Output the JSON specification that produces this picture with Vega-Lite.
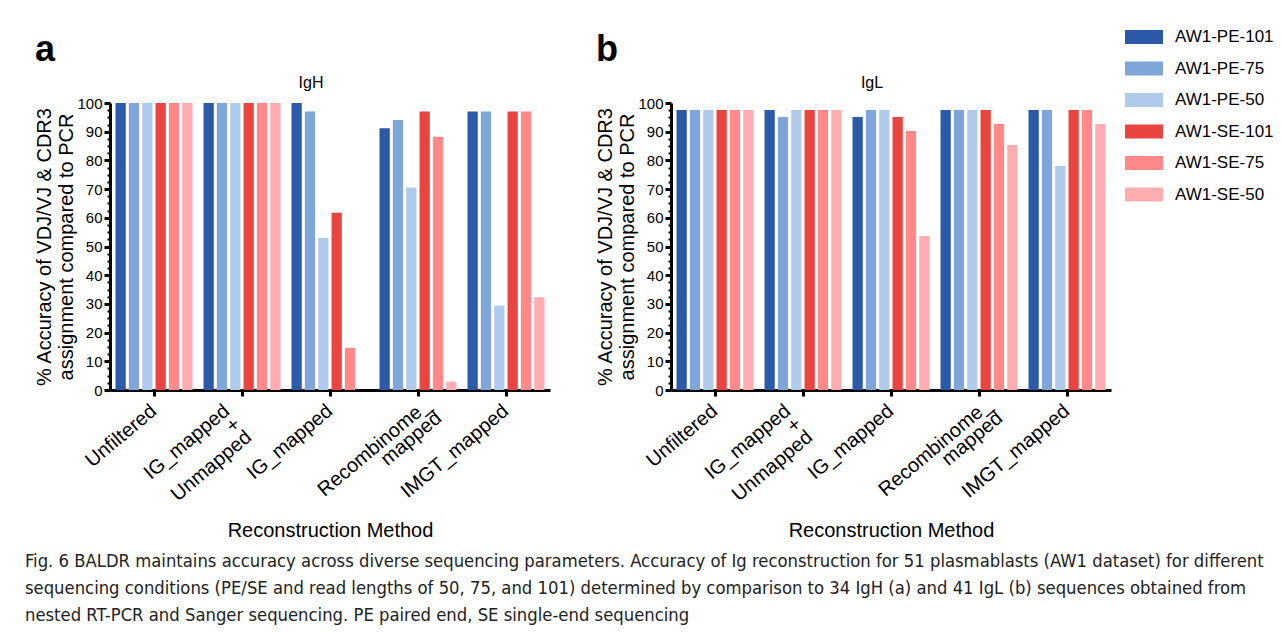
{
  "$schema": "https://vega.github.io/schema/vega-lite/v6.json",
  "background": "white",
  "padding": {"left": 24, "top": 18, "right": 0, "bottom": 0},
  "config": {
    "font": "Liberation Sans",
    "view": {"stroke": null},
    "axis": {"grid": false, "domainColor": "black", "tickColor": "black", "labelColor": "black", "titleColor": "black", "titleFontWeight": "normal"}
  },
  "title": {
    "text": [
      "Fig. 6 BALDR maintains accuracy across diverse sequencing parameters. Accuracy of Ig reconstruction for 51 plasmablasts (AW1 dataset) for different",
      "sequencing conditions (PE/SE and read lengths of 50, 75, and 101) determined by comparison to 34 IgH (a) and 41 IgL (b) sequences obtained from",
      "nested RT-PCR and Sanger sequencing. PE paired end, SE single-end sequencing"
    ],
    "orient": "bottom",
    "anchor": "start",
    "font": "DejaVu Sans Condensed, sans-serif",
    "fontSize": 18.3,
    "fontWeight": "normal",
    "color": "#222222",
    "lineHeight": 27,
    "offset": 12,
    "dx": -10
  },
  "datasets": {
    "igh": [
      {"method": "Unfiltered", "series": "AW1-PE-101", "value": 100},
      {"method": "Unfiltered", "series": "AW1-PE-75", "value": 100},
      {"method": "Unfiltered", "series": "AW1-PE-50", "value": 100},
      {"method": "Unfiltered", "series": "AW1-SE-101", "value": 100},
      {"method": "Unfiltered", "series": "AW1-SE-75", "value": 100},
      {"method": "Unfiltered", "series": "AW1-SE-50", "value": 100},
      {"method": "IG_mapped + Unmapped", "series": "AW1-PE-101", "value": 100},
      {"method": "IG_mapped + Unmapped", "series": "AW1-PE-75", "value": 100},
      {"method": "IG_mapped + Unmapped", "series": "AW1-PE-50", "value": 100},
      {"method": "IG_mapped + Unmapped", "series": "AW1-SE-101", "value": 100},
      {"method": "IG_mapped + Unmapped", "series": "AW1-SE-75", "value": 100},
      {"method": "IG_mapped + Unmapped", "series": "AW1-SE-50", "value": 100},
      {"method": "IG_mapped", "series": "AW1-PE-101", "value": 100},
      {"method": "IG_mapped", "series": "AW1-PE-75", "value": 97.06},
      {"method": "IG_mapped", "series": "AW1-PE-50", "value": 52.94},
      {"method": "IG_mapped", "series": "AW1-SE-101", "value": 61.76},
      {"method": "IG_mapped", "series": "AW1-SE-75", "value": 14.71},
      {"method": "IG_mapped", "series": "AW1-SE-50", "value": 0},
      {"method": "Recombinome_mapped", "series": "AW1-PE-101", "value": 91.18},
      {"method": "Recombinome_mapped", "series": "AW1-PE-75", "value": 94.12},
      {"method": "Recombinome_mapped", "series": "AW1-PE-50", "value": 70.59},
      {"method": "Recombinome_mapped", "series": "AW1-SE-101", "value": 97.06},
      {"method": "Recombinome_mapped", "series": "AW1-SE-75", "value": 88.24},
      {"method": "Recombinome_mapped", "series": "AW1-SE-50", "value": 2.94},
      {"method": "IMGT_mapped", "series": "AW1-PE-101", "value": 97.06},
      {"method": "IMGT_mapped", "series": "AW1-PE-75", "value": 97.06},
      {"method": "IMGT_mapped", "series": "AW1-PE-50", "value": 29.41},
      {"method": "IMGT_mapped", "series": "AW1-SE-101", "value": 97.06},
      {"method": "IMGT_mapped", "series": "AW1-SE-75", "value": 97.06},
      {"method": "IMGT_mapped", "series": "AW1-SE-50", "value": 32.35}
    ],
    "igl": [
      {"method": "Unfiltered", "series": "AW1-PE-101", "value": 97.56},
      {"method": "Unfiltered", "series": "AW1-PE-75", "value": 97.56},
      {"method": "Unfiltered", "series": "AW1-PE-50", "value": 97.56},
      {"method": "Unfiltered", "series": "AW1-SE-101", "value": 97.56},
      {"method": "Unfiltered", "series": "AW1-SE-75", "value": 97.56},
      {"method": "Unfiltered", "series": "AW1-SE-50", "value": 97.56},
      {"method": "IG_mapped + Unmapped", "series": "AW1-PE-101", "value": 97.56},
      {"method": "IG_mapped + Unmapped", "series": "AW1-PE-75", "value": 95.12},
      {"method": "IG_mapped + Unmapped", "series": "AW1-PE-50", "value": 97.56},
      {"method": "IG_mapped + Unmapped", "series": "AW1-SE-101", "value": 97.56},
      {"method": "IG_mapped + Unmapped", "series": "AW1-SE-75", "value": 97.56},
      {"method": "IG_mapped + Unmapped", "series": "AW1-SE-50", "value": 97.56},
      {"method": "IG_mapped", "series": "AW1-PE-101", "value": 95.12},
      {"method": "IG_mapped", "series": "AW1-PE-75", "value": 97.56},
      {"method": "IG_mapped", "series": "AW1-PE-50", "value": 97.56},
      {"method": "IG_mapped", "series": "AW1-SE-101", "value": 95.12},
      {"method": "IG_mapped", "series": "AW1-SE-75", "value": 90.24},
      {"method": "IG_mapped", "series": "AW1-SE-50", "value": 53.66},
      {"method": "Recombinome_mapped", "series": "AW1-PE-101", "value": 97.56},
      {"method": "Recombinome_mapped", "series": "AW1-PE-75", "value": 97.56},
      {"method": "Recombinome_mapped", "series": "AW1-PE-50", "value": 97.56},
      {"method": "Recombinome_mapped", "series": "AW1-SE-101", "value": 97.56},
      {"method": "Recombinome_mapped", "series": "AW1-SE-75", "value": 92.68},
      {"method": "Recombinome_mapped", "series": "AW1-SE-50", "value": 85.37},
      {"method": "IMGT_mapped", "series": "AW1-PE-101", "value": 97.56},
      {"method": "IMGT_mapped", "series": "AW1-PE-75", "value": 97.56},
      {"method": "IMGT_mapped", "series": "AW1-PE-50", "value": 78.05},
      {"method": "IMGT_mapped", "series": "AW1-SE-101", "value": 97.56},
      {"method": "IMGT_mapped", "series": "AW1-SE-75", "value": 97.56},
      {"method": "IMGT_mapped", "series": "AW1-SE-50", "value": 92.68}
    ]
  },
  "spacing": 45,
  "hconcat": [
    {
      "title": {"text": "a", "anchor": "start", "fontSize": 36, "fontWeight": "bold", "color": "black", "offset": 6},
      "vconcat": [
        {
          "width": 440,
          "height": 287,
          "title": {"text": "IgH", "fontSize": 16, "fontWeight": "normal", "color": "black", "offset": 5, "dx": -19},
          "data": {"name": "igh"},
          "resolve": {"axis": {"y": "independent"}},
          "layer": [
            {
              "mark": {"type": "bar"},
              "encoding": {
                "x": {
                  "field": "method", "type": "nominal",
                  "sort": ["Unfiltered", "IG_mapped + Unmapped", "IG_mapped", "Recombinome_mapped", "IMGT_mapped"],
                  "scale": {"paddingInner": 0.125, "paddingOuter": 0.0625},
                  "axis": {
                    "title": "Reconstruction Method", "titleFontSize": 20, "titlePadding": 8,
                    "labelExpr": "datum.label == 'IG_mapped + Unmapped' ? ['IG_mapped', '+\u00a0\u00a0\u00a0\u00a0\u00a0\u00a0\u00a0\u00a0\u00a0\u00a0', 'Unmapped\u00a0'] : datum.label == 'Recombinome_mapped' ? ['Recombinome_', 'mapped\u00a0\u00a0\u00a0\u00a0\u00a0\u00a0\u00a0\u00a0\u00a0\u00a0\u00a0\u00a0\u00a0'] : datum.label",
                    "labelAngle": -40, "labelAlign": "right", "labelBaseline": "middle",
                    "labelFontSize": 20, "labelLineHeight": 17,
                    "labelPadding": {"condition": {"test": "datum.value === 'Recombinome_mapped'", "value": 6}, "value": 12},
                    "labelOffset": {"condition": [{"test": "datum.value === 'IG_mapped + Unmapped'", "value": -15}, {"test": "datum.value === 'Recombinome_mapped'", "value": 10}], "value": 0},
                    "domainWidth": 3, "tickWidth": 3, "tickSize": 6
                  }
                },
                "xOffset": {
                  "field": "series", "type": "nominal",
                  "sort": ["AW1-PE-101", "AW1-PE-75", "AW1-PE-50", "AW1-SE-101", "AW1-SE-75", "AW1-SE-50"],
                  "scale": {"paddingInner": 0.23, "paddingOuter": 0}
                },
                "y": {
                  "field": "value", "type": "quantitative",
                  "scale": {"domain": [0, 100], "nice": false},
                  "axis": {
                    "orient": "left",
                    "title": ["% Accuracy of VDJ/VJ & CDR3", "assignment compared to PCR"],
                    "titleFontSize": 20, "titleLineHeight": 22, "titlePadding": 0,
                    "values": [0, 10, 20, 30, 40, 50, 60, 70, 80, 90, 100],
                    "labelFontSize": 15, "labelPadding": 2,
                    "domainWidth": 3, "tickWidth": 3, "tickSize": 6
                  }
                },
                "color": {
                  "field": "series", "type": "nominal",
                  "scale": {
                    "domain": ["AW1-PE-101", "AW1-PE-75", "AW1-PE-50", "AW1-SE-101", "AW1-SE-75", "AW1-SE-50"],
                    "range": ["#2c5aa9", "#7ea6d8", "#b0caeb", "#e9443f", "#ff8888", "#ffadb1"]
                  },
                  "legend": {
                    "title": null, "orient": "none", "legendX": 1015, "legendY": -85,
                    "labelFontSize": 17, "labelColor": "black", "labelOffset": 12,
                    "symbolType": "M-1,-0.37H1V0.37H-1Z", "symbolSize": 1444,
                    "symbolStrokeWidth": 0, "symbolOpacity": 1,
                    "rowPadding": 4.5
                  }
                }
              }
            },
            {
              "mark": {"type": "point", "opacity": 0},
              "encoding": {
                "y": {
                  "field": "value", "type": "quantitative",
                  "axis": {
                    "orient": "left", "title": null, "labels": false, "domain": false,
                    "values": [2.5, 5, 7.5, 12.5, 15, 17.5, 22.5, 25, 27.5, 32.5, 35, 37.5, 42.5, 45, 47.5, 52.5, 55, 57.5, 62.5, 65, 67.5, 72.5, 75, 77.5, 82.5, 85, 87.5, 92.5, 95, 97.5],
                    "tickWidth": 2, "tickSize": 3
                  }
                }
              }
            }
          ]
        }
      ]
    },
    {
      "title": {"text": "b", "anchor": "start", "fontSize": 36, "fontWeight": "bold", "color": "black", "offset": 6},
      "vconcat": [
        {
          "width": 440,
          "height": 287,
          "title": {"text": "IgL", "fontSize": 16, "fontWeight": "normal", "color": "black", "offset": 5, "dx": -19},
          "data": {"name": "igl"},
          "resolve": {"axis": {"y": "independent"}},
          "layer": [
            {
              "mark": {"type": "bar"},
              "encoding": {
                "x": {
                  "field": "method", "type": "nominal",
                  "sort": ["Unfiltered", "IG_mapped + Unmapped", "IG_mapped", "Recombinome_mapped", "IMGT_mapped"],
                  "scale": {"paddingInner": 0.125, "paddingOuter": 0.0625},
                  "axis": {
                    "title": "Reconstruction Method", "titleFontSize": 20, "titlePadding": 8,
                    "labelExpr": "datum.label == 'IG_mapped + Unmapped' ? ['IG_mapped', '+\u00a0\u00a0\u00a0\u00a0\u00a0\u00a0\u00a0\u00a0\u00a0\u00a0', 'Unmapped\u00a0'] : datum.label == 'Recombinome_mapped' ? ['Recombinome_', 'mapped\u00a0\u00a0\u00a0\u00a0\u00a0\u00a0\u00a0\u00a0\u00a0\u00a0\u00a0\u00a0\u00a0'] : datum.label",
                    "labelAngle": -40, "labelAlign": "right", "labelBaseline": "middle",
                    "labelFontSize": 20, "labelLineHeight": 17,
                    "labelPadding": {"condition": {"test": "datum.value === 'Recombinome_mapped'", "value": 6}, "value": 12},
                    "labelOffset": {"condition": [{"test": "datum.value === 'IG_mapped + Unmapped'", "value": -15}, {"test": "datum.value === 'Recombinome_mapped'", "value": 10}], "value": 0},
                    "domainWidth": 3, "tickWidth": 3, "tickSize": 6
                  }
                },
                "xOffset": {
                  "field": "series", "type": "nominal",
                  "sort": ["AW1-PE-101", "AW1-PE-75", "AW1-PE-50", "AW1-SE-101", "AW1-SE-75", "AW1-SE-50"],
                  "scale": {"paddingInner": 0.23, "paddingOuter": 0}
                },
                "y": {
                  "field": "value", "type": "quantitative",
                  "scale": {"domain": [0, 100], "nice": false},
                  "axis": {
                    "orient": "left",
                    "title": ["% Accuracy of VDJ/VJ & CDR3", "assignment compared to PCR"],
                    "titleFontSize": 20, "titleLineHeight": 22, "titlePadding": 0,
                    "values": [0, 10, 20, 30, 40, 50, 60, 70, 80, 90, 100],
                    "labelFontSize": 15, "labelPadding": 2,
                    "domainWidth": 3, "tickWidth": 3, "tickSize": 6
                  }
                },
                "color": {
                  "field": "series", "type": "nominal",
                  "scale": {
                    "domain": ["AW1-PE-101", "AW1-PE-75", "AW1-PE-50", "AW1-SE-101", "AW1-SE-75", "AW1-SE-50"],
                    "range": ["#2c5aa9", "#7ea6d8", "#b0caeb", "#e9443f", "#ff8888", "#ffadb1"]
                  },
                  "legend": null
                }
              }
            },
            {
              "mark": {"type": "point", "opacity": 0},
              "encoding": {
                "y": {
                  "field": "value", "type": "quantitative",
                  "axis": {
                    "orient": "left", "title": null, "labels": false, "domain": false,
                    "values": [2.5, 5, 7.5, 12.5, 15, 17.5, 22.5, 25, 27.5, 32.5, 35, 37.5, 42.5, 45, 47.5, 52.5, 55, 57.5, 62.5, 65, 67.5, 72.5, 75, 77.5, 82.5, 85, 87.5, 92.5, 95, 97.5],
                    "tickWidth": 2, "tickSize": 3
                  }
                }
              }
            }
          ]
        }
      ]
    }
  ]
}
